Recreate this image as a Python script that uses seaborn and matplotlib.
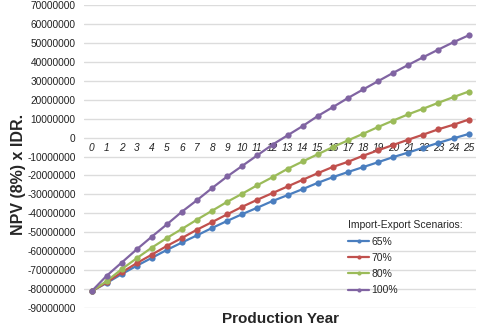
import matplotlib
matplotlib.use("Agg")
import matplotlib.pyplot as plt
import seaborn as sns
import pandas as pd

# NPV (8%) in million IDR for each production year
years = list(range(26))
npv_65 = [-81.2, -76.8, -72.1, -67.7, -63.5, -59.3, -55.4, -51.6, -47.7, -44.0,
          -40.4, -37.0, -33.5, -30.4, -27.2, -23.9, -20.9, -18.2, -15.6, -13.0,
          -10.3, -7.9, -5.3, -2.8, -0.4, 1.9]
npv_70 = [-81.2, -76.5, -71.2, -66.3, -61.8, -57.2, -53.0, -48.6, -44.6, -40.5,
          -36.5, -32.8, -29.3, -25.8, -22.3, -18.8, -15.5, -12.8, -9.6, -6.7,
          -3.9, -1.1, 1.6, 4.4, 6.8, 9.5]
npv_80 = [-81.2, -75.8, -69.5, -63.7, -58.1, -53.0, -48.2, -43.3, -38.6, -33.9,
          -29.6, -25.1, -20.9, -16.5, -12.6, -8.8, -5.0, -1.5, 2.0, 5.6,
          9.0, 12.3, 15.3, 18.4, 21.4, 24.3]
npv_100 = [-81.2, -73.0, -66.0, -59.0, -52.3, -45.8, -39.1, -33.0, -26.6, -20.5,
           -14.9, -9.3, -3.7, 1.2, 6.1, 11.4, 16.1, 20.9, 25.4, 29.8,
           34.2, 38.4, 42.5, 46.5, 50.4, 54.0]
scenarios = ["65%", "70%", "80%", "100%"]
colors = ["#4a7ebf", "#c0504d", "#9bbb59", "#8064a2"]
y_ticks = list(range(-90000000, 70000001, 10000000))

frames = []
for name, vals in zip(scenarios, [npv_65, npv_70, npv_80, npv_100]):
    frames.append(pd.DataFrame({"year": years,
                                "npv": [v * 1e6 for v in vals],
                                "scenario": name}))
df = pd.concat(frames, ignore_index=True)

sns.set_style("white")
plt.rcParams['font.family'] = ['Liberation Sans', 'DejaVu Sans']

fig = plt.figure(figsize=(4.8, 3.3), dpi=100)
ax = fig.add_axes([0.175, 0.0667, 0.817, 0.918])

sns.lineplot(data=df, x="year", y="npv", hue="scenario", hue_order=scenarios,
             palette=colors, marker="o", markersize=4.5, markeredgewidth=0,
             linewidth=1.6, ax=ax)

ax.set_xlim(-0.5, 25.5)
ax.set_ylim(-90000000, 70000000)
ax.set_yticks(y_ticks)
ax.set_yticklabels([str(t) for t in y_ticks], fontsize=7.3, color="#222222")
ax.yaxis.grid(True, color="#dcdcdc", linewidth=1.0)
ax.set_axisbelow(True)

# category axis crosses at zero
ax.spines['bottom'].set_position(('data', 0))
for s in ["top", "right", "left", "bottom"]:
    ax.spines[s].set_visible(False)
ax.set_xticks(years)
ax.set_xticklabels([str(y) for y in years], fontsize=7.3, style="italic",
                   color="#222222")
ax.tick_params(axis="both", length=0)
ax.tick_params(axis="x", pad=4)
ax.tick_params(axis="y", pad=6)

ax.set_xlabel("Production Year", fontsize=11, fontweight="bold")
ax.xaxis.set_label_coords(0.5, -0.012)
ax.set_ylabel("NPV (8%) x IDR.", fontsize=11.5, fontweight="bold")
ax.yaxis.set_label_coords(-0.148, 0.44)

leg = ax.legend(title="Import-Export Scenarios:", loc="upper left",
                bbox_to_anchor=(0.717, 0.345), bbox_transform=fig.transFigure,
                frameon=False, fontsize=7.5, title_fontsize=7.5,
                handlelength=2.0, handletextpad=0.2, labelspacing=0.6,
                borderaxespad=0)
leg._legend_box.align = "left"
for h in leg.legend_handles:
    h.set_markersize(3)

fig.savefig("out.png", dpi=100)
